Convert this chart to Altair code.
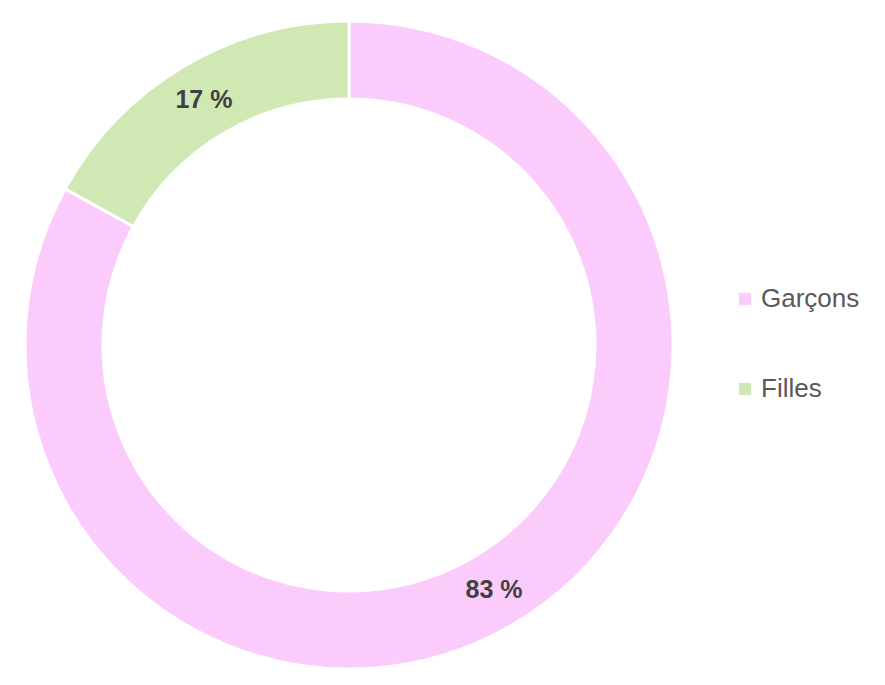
import altair as alt
import pandas as pd

categories = ["Garçons", "Filles"]
values = [83, 17]
labels = ["83 %", "17 %"]
colors = ["#FBCBFB", "#D0E8B4"]

df = pd.DataFrame({"cat": categories, "val": values, "lab": labels, "order": [0, 1]})

base = alt.Chart(df).encode(
    theta=alt.Theta("val:Q", stack=True),
    order=alt.Order("order:Q"),
)

arc = base.mark_arc(outerRadius=324, innerRadius=246, stroke="white", strokeWidth=3).encode(
    color=alt.Color(
        "cat:N",
        scale=alt.Scale(domain=categories, range=colors),
        legend=alt.Legend(
            title=None,
            orient="none",
            legendX=708,
            legendY=266,
            symbolType="square",
            symbolSize=150,
            symbolStrokeWidth=0,
            labelFontSize=26,
            labelFont="Liberation Sans",
            labelColor="#595959",
            rowPadding=64,
            labelOffset=3,
            padding=0,
        ),
    )
)

text = base.mark_text(radius=285, fontSize=25, fontWeight="bold", font="Liberation Sans", color="#404040").encode(
    text="lab:N"
)

chart = (
    alt.layer(arc, text)
    .properties(width=650, height=650, padding={"left": 11, "top": 7, "right": 5, "bottom": 5})
    .configure_view(stroke=None)
    .configure(background="white")
)

chart.save("out.html", embed_options={"renderer": "svg", "actions": False})
